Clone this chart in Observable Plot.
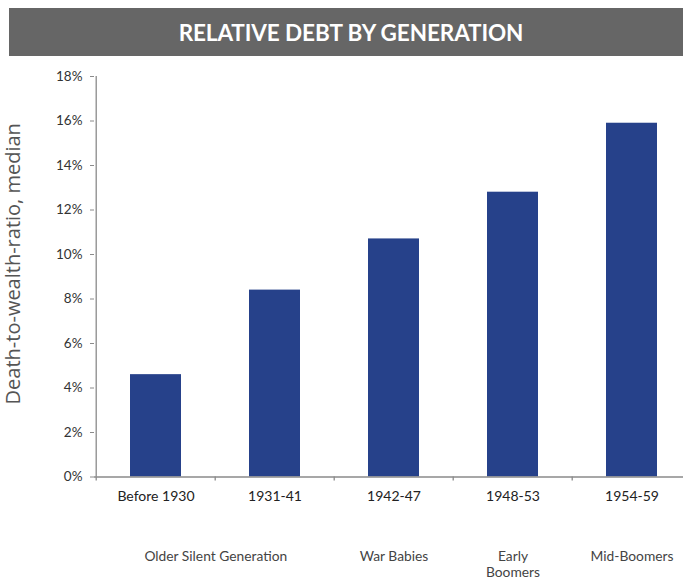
<!DOCTYPE html>
<html>
<head>
<meta charset="utf-8">
<script src="https://cdn.jsdelivr.net/npm/d3@7"></script>
<script src="https://cdn.jsdelivr.net/npm/@observablehq/plot@0.6"></script>
<style>
  html, body { margin: 0; padding: 0; background: #fff; overflow: hidden; width: 683px; height: 579px; }
  #banner {
    position: absolute; left: 9px; top: 8px; width: 674px; height: 48px;
    background: #666; color: #fff; font-family: Lato, "Open Sans", sans-serif;
    font-weight: 700; font-size: 22.5px; letter-spacing: -0.1px;
    display: flex; align-items: center; justify-content: center; padding-left: 10px; box-sizing: border-box;
  }
  #chart { position: absolute; left: 0; top: 55px; }
</style>
</head>
<body>
<div id="banner">RELATIVE DEBT BY GENERATION</div>
<div id="chart"></div>
<script>
const title = "RELATIVE DEBT BY GENERATION";
const yLabel = "Death-to-wealth-ratio, median";
const categories = ["Before 1930", "1931-41", "1942-47", "1948-53", "1954-59"];
const values = [4.6, 8.4, 10.7, 12.8, 15.9];
const yTicks = [0, 2, 4, 6, 8, 10, 12, 14, 16, 18];
const generations = ["Older Silent Generation", "War Babies", "Early\nBoomers", "Mid-Boomers"];
const generationAnchor = ["Before 1930", "1942-47", "1948-53", "1954-59"];
const generationShift = [0.5, 0, 0, 0]; // in band steps

const data = categories.map((c, i) => ({category: c, value: values[i]}));
const gens = generations.map((g, i) => ({name: g, at: generationAnchor[i], shift: generationShift[i]}));

const W = 683, H = 524, mL = 94, mR = -9, mT = 21, mB = 102.5;
const step = (W - mR - mL) / categories.length;
const font = "Lato, 'Open Sans', sans-serif";

const plot = Plot.plot({
  width: W, height: H,
  marginLeft: mL, marginRight: mR, marginTop: mT, marginBottom: mB,
  style: {fontFamily: font, background: "transparent", overflow: "visible"},
  x: {domain: categories, paddingInner: 0.573, paddingOuter: 0.2865, axis: null},
  y: {domain: [0, 18], axis: null},
  marks: [
    Plot.barY(data, {x: "category", y: "value", fill: "#26418a"}),
    // x axis line
    Plot.ruleY([0], {stroke: "#8a8a8a", strokeWidth: 1.3}),
    // y axis line
    Plot.ruleX([categories[0]], {dx: -step / 2, y1: 0, y2: 18, stroke: "#8a8a8a", strokeWidth: 1.3}),
    // x tick marks at band boundaries
    Plot.ruleX(categories, {dx: -step / 2, y1: 0, y2: 0, insetBottom: -4, stroke: "#8a8a8a", strokeWidth: 1.3}),
    Plot.ruleX(categories.slice(-1), {dx: step / 2, y1: 0, y2: 0, insetBottom: -4, stroke: "#8a8a8a", strokeWidth: 1.3}),
    Plot.axisY(yTicks, {tickSize: 4, tickPadding: 8, tickFormat: d => d + "%", stroke: "#8a8a8a", fill: "#333", fontSize: 13.5, label: null}),
    Plot.axisX({tickSize: 0, tickPadding: 14, fill: "#222", fontSize: 14, label: null}),
    Plot.text(gens.filter(d => d.shift), {x: "at", y: () => 0, text: "name", dx: step / 2, dy: 72, lineAnchor: "top", fill: "#444", fontSize: 13.8, lineHeight: 1.2}),
    Plot.text(gens.filter(d => !d.shift), {x: "at", y: () => 0, text: "name", dy: 72, lineAnchor: "top", fill: "#444", fontSize: 13.8, lineHeight: 1.2}),
    Plot.text([yLabel], {text: d => d, frameAnchor: "left", textAnchor: "middle", dx: -81, dy: -13, rotate: -90, fill: "#555", fontSize: 20, fontFamily: "'Open Sans', sans-serif"})
  ]
});
document.getElementById("chart").appendChild(plot);
</script>
</body>
</html>
